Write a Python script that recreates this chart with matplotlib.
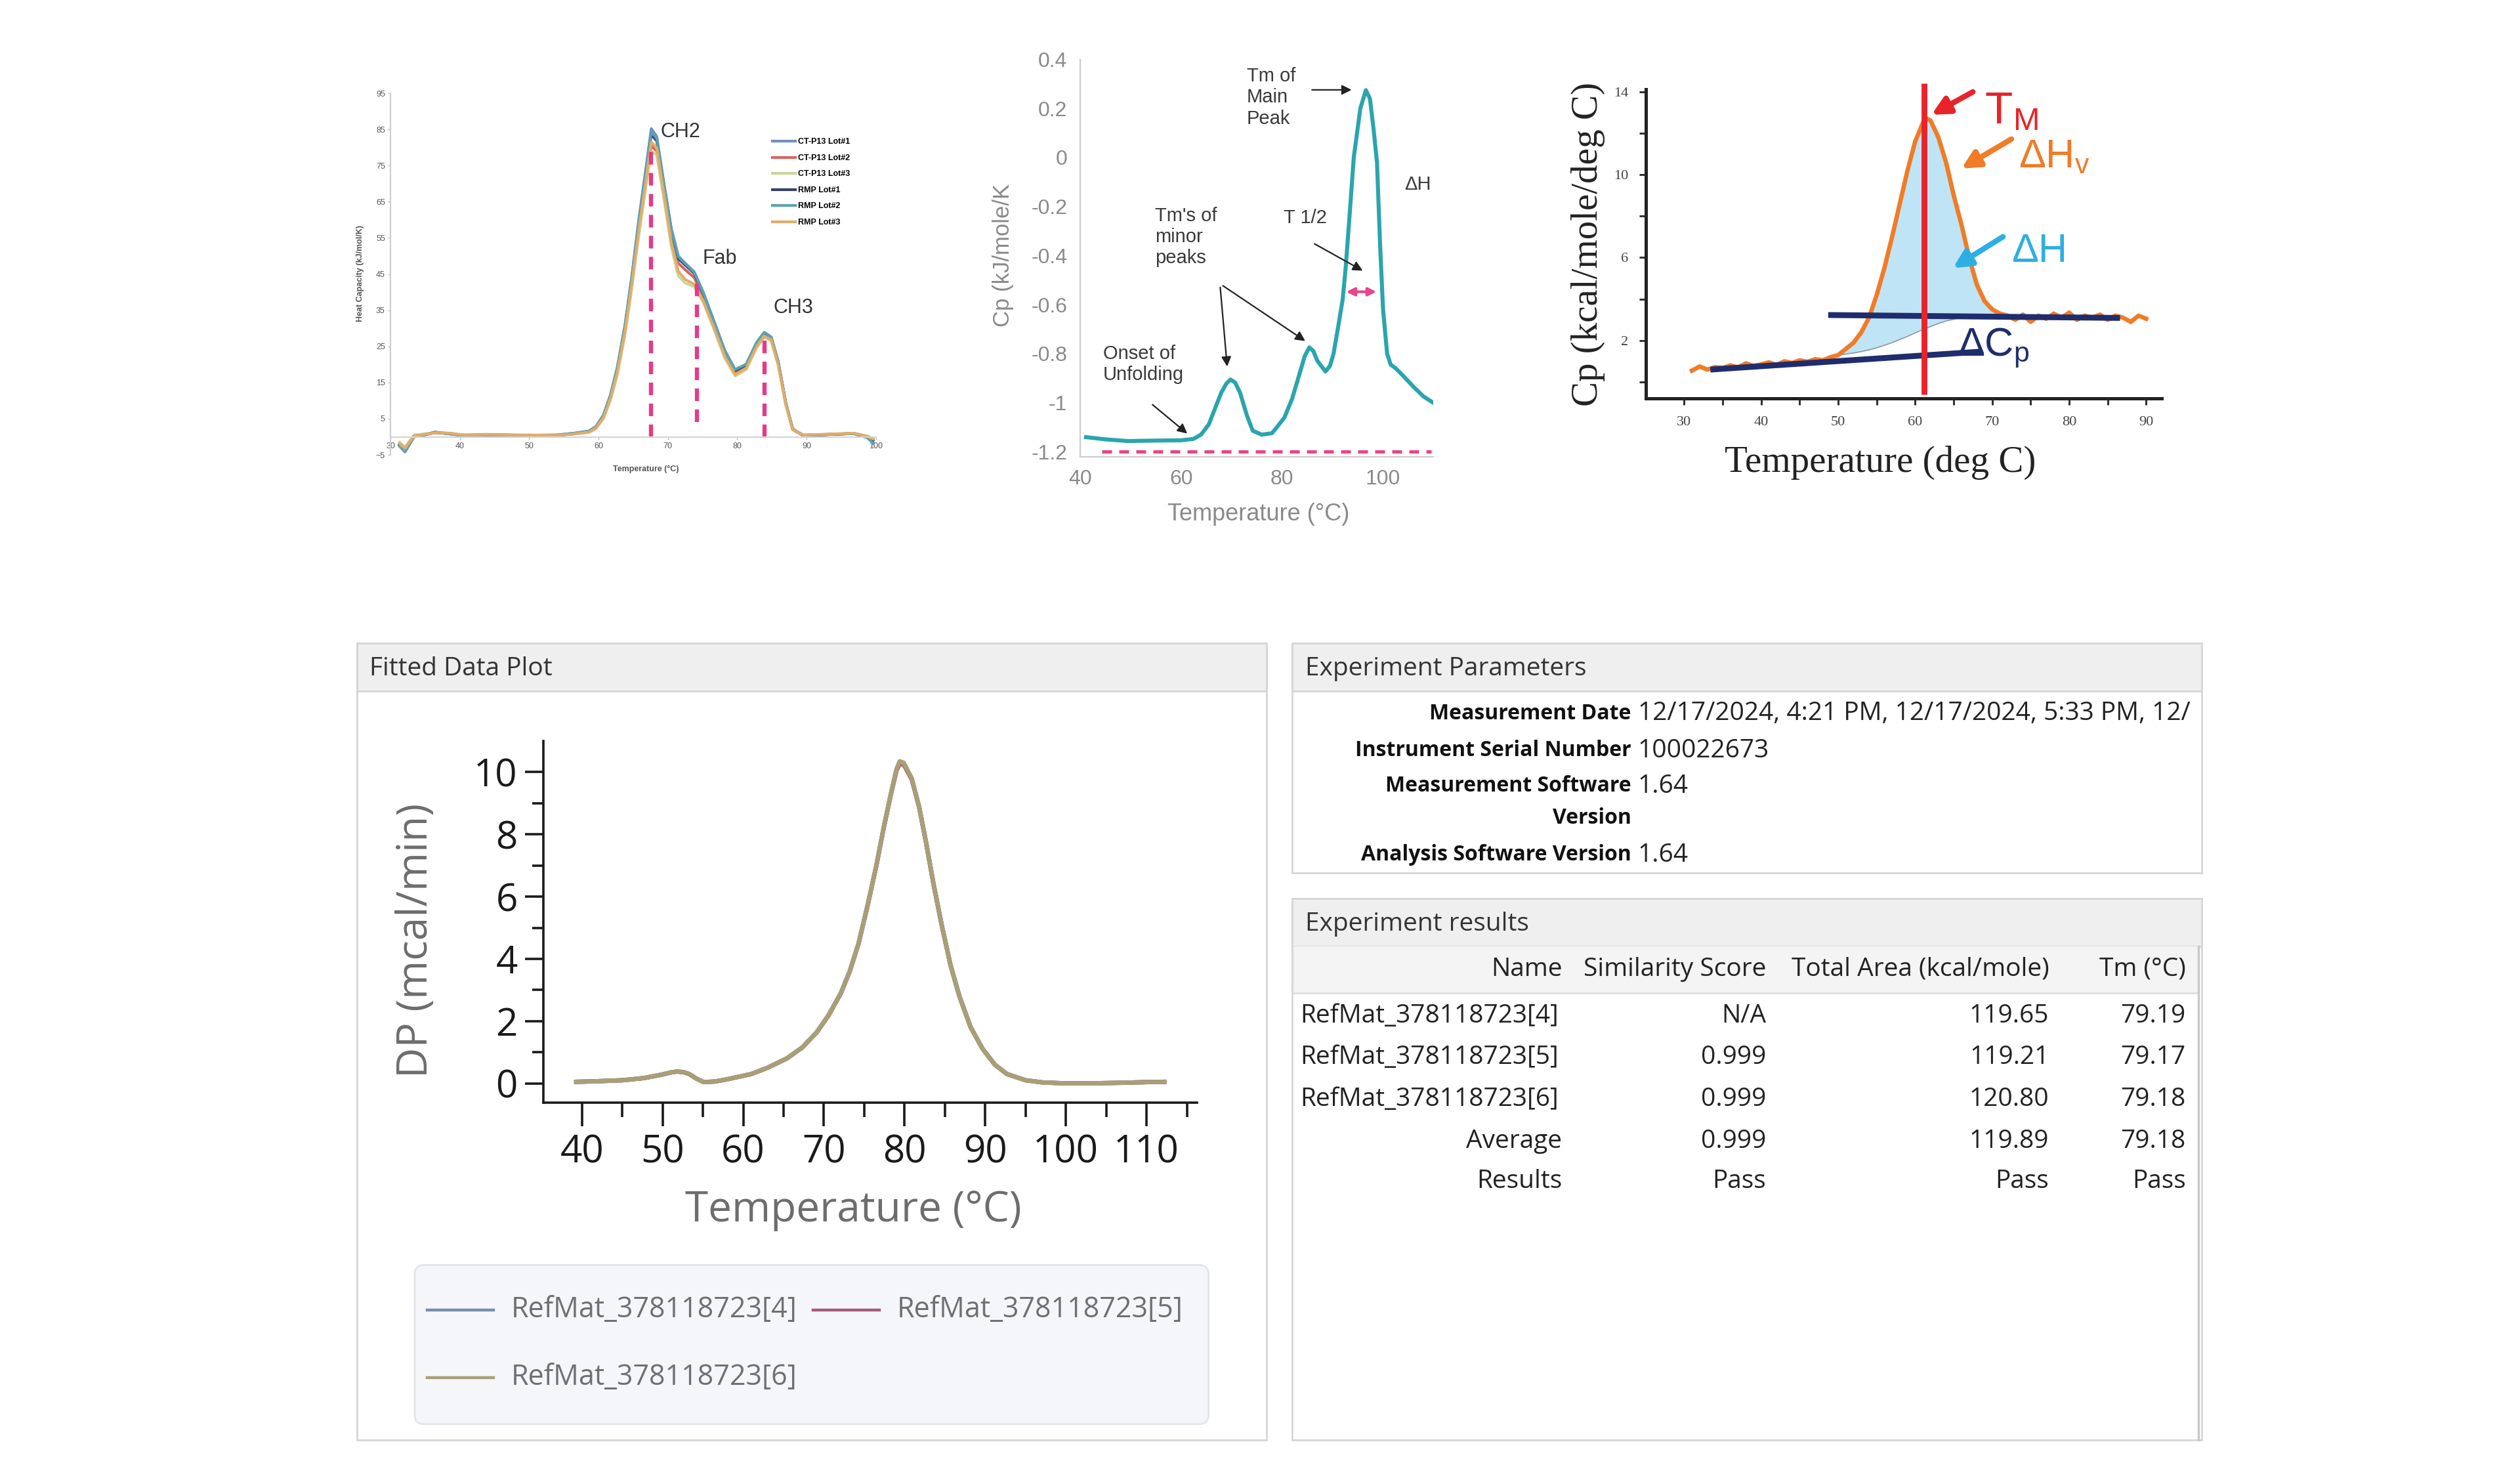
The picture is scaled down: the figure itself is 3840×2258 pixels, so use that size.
import numpy as np
import matplotlib.pyplot as plt
from matplotlib.patches import Rectangle, FancyBboxPatch
from matplotlib.transforms import Bbox, TransformedBbox

plt.rcParams['font.family'] = ['Liberation Sans', 'DejaVu Sans']
plt.rcParams['mathtext.fontset'] = 'custom'
plt.rcParams['mathtext.rm'] = 'Liberation Sans'
plt.rcParams['mathtext.it'] = 'Liberation Sans:italic'

# ---------------- data: panel 1 (six lots, Fc/Fab/CH3 transitions) ----------------
t1 = [31.3, 32.1, 33.4, 34.9, 36.4, 38.5, 40.6, 43.7, 48.8, 54.0, 56.5, 58.6, 59.6, 60.7, 61.7,
      62.7, 63.8, 64.8, 65.8, 66.9, 67.6, 68.4, 69.4, 70.5, 71.5, 72.5, 73.8, 75.1, 76.6, 78.2,
      79.7, 81.3, 82.8, 83.9, 84.9, 85.9, 87.0, 88.0, 89.5, 92.6, 96.8, 98.8, 99.6]
ct_lot1 = [-2.4, -3.9, 0.1, 0.5, 1.3, 0.8, 0.4, 0.6, 0.4, 0.5, 1.0, 1.6, 2.8, 6.0, 11.5,
           19.2, 30.8, 44.5, 60.0, 75.2, 85.2, 83.0, 70.5, 57.5, 50.0, 48.0, 45.6, 40.0, 32.2, 23.8,
           18.4, 20.0, 26.0, 28.8, 27.5, 20.8, 9.4, 2.0, 0.4, 0.6, 0.9, -0.2, -1.6]
ct_lot2 = [-1.8, -3.0, 0.4, 0.7, 1.1, 0.9, 0.5, 0.5, 0.4, 0.4, 0.8, 1.3, 2.3, 5.2, 10.3,
           17.6, 28.7, 41.8, 56.5, 71.0, 80.5, 79.0, 67.8, 55.4, 48.0, 46.2, 44.0, 38.8, 31.3, 23.2,
           17.9, 19.4, 25.3, 28.0, 26.9, 20.3, 9.1, 2.1, 0.5, 0.6, 1.0, 0.1, -0.7]
ct_lot3 = [-1.5, -2.8, 0.5, 0.8, 1.2, 1.0, 0.5, 0.7, 0.5, 0.4, 0.8, 1.2, 2.2, 5.0, 10.0,
           17.0, 28.0, 41.0, 55.5, 70.0, 79.0, 77.8, 66.0, 52.5, 44.5, 42.5, 41.5, 37.2, 30.0, 21.8,
           16.8, 18.6, 24.6, 27.6, 26.5, 19.8, 8.8, 2.0, 0.4, 0.7, 0.9, 0.2, -0.5]
rmp_lot1 = [-2.2, -3.6, 0.2, 0.6, 1.2, 0.9, 0.4, 0.6, 0.4, 0.4, 0.9, 1.5, 2.6, 5.7, 11.0,
            18.6, 29.9, 43.4, 58.6, 73.6, 83.6, 81.8, 69.7, 56.9, 49.3, 47.5, 45.2, 39.6, 32.0, 23.7,
            18.3, 19.9, 25.9, 28.6, 27.4, 20.7, 9.3, 2.1, 0.4, 0.6, 0.9, 0.0, -1.0]
rmp_lot2 = [-2.6, -4.2, 0.0, 0.5, 1.3, 0.8, 0.3, 0.6, 0.4, 0.5, 1.0, 1.5, 2.7, 5.9, 11.3,
            19.0, 30.4, 44.0, 59.2, 74.4, 84.4, 82.5, 70.2, 57.4, 49.8, 47.9, 45.5, 39.8, 32.1, 23.9,
            18.6, 20.1, 26.1, 28.9, 27.6, 20.9, 9.5, 2.2, 0.4, 0.6, 0.9, -0.3, -1.8]
rmp_lot3 = [-1.9, -3.2, 0.3, 0.7, 1.1, 1.0, 0.5, 0.6, 0.5, 0.4, 0.8, 1.3, 2.4, 5.3, 10.5,
            17.8, 29.0, 42.3, 57.0, 71.8, 81.5, 79.8, 67.5, 53.8, 45.8, 43.5, 42.2, 37.6, 30.4, 22.3,
            17.2, 19.0, 25.0, 27.9, 26.8, 20.1, 9.0, 2.0, 0.5, 0.7, 1.0, 0.1, -0.6]
lot_labels = ['CT-P13 Lot#1', 'CT-P13 Lot#2', 'CT-P13 Lot#3', 'RMP Lot#1', 'RMP Lot#2', 'RMP Lot#3']
peak_names = ['CH2', 'Fab', 'CH3']
peak_t = [67.6, 74.2, 83.9]
peak_bottom = [0, 4, 0]
peak_top = [79, 43, 27.5]

# ---------------- data: panel 2 (annotated thermogram) ----------------
p2_temp = [41.2, 45.0, 49.5, 55.0, 60.0, 62.5, 64.0, 65.5, 67.0, 68.0,
           69.0, 69.8, 70.7, 71.7, 73.0, 74.2, 76.0, 78.0, 79.0, 80.5,
           82.0, 83.5, 84.5, 85.4, 86.2, 87.0, 88.6, 89.5, 90.2, 91.2,
           92.0, 92.6, 93.5, 94.2, 95.5, 96.6, 97.4, 98.1, 98.8, 99.4,
           100.0, 100.8, 101.5, 102.5, 103.7, 106.0, 108.0, 109.9]
p2_cp = [-1.141, -1.150, -1.157, -1.155, -1.154, -1.148, -1.130, -1.089, -1.010, -0.958,
         -0.922, -0.906, -0.918, -0.960, -1.050, -1.115, -1.131, -1.125, -1.100, -1.060,
         -0.984, -0.880, -0.810, -0.775, -0.790, -0.830, -0.873, -0.850, -0.800, -0.680,
         -0.580, -0.450, -0.200, 0.000, 0.200, 0.275, 0.240, 0.120, -0.020, -0.350,
         -0.620, -0.800, -0.845, -0.860, -0.885, -0.935, -0.975, -1.000]
p2_xticks = [40, 60, 80, 100]
p2_yticks = [-1.2, -1.0, -0.8, -0.6, -0.4, -0.2, 0.0, 0.2, 0.4]
p2_yticklabels = ['-1.2', '-1', '-0.8', '-0.6', '-0.4', '-0.2', '0', '0.2', '0.4']
p2_baseline = -1.2
p2_t_half = [92.0, 99.4]

# ---------------- data: panel 3 (Cp with baselines) ----------------
p3_temp = [31, 32, 33, 34, 35, 36, 37, 38, 39, 40,
           41, 42, 43, 44, 45, 46, 47, 48, 49, 50,
           51, 52, 53, 54, 55, 56, 57, 58, 59, 60,
           61, 61.5, 62, 63, 64, 65, 66, 67, 68, 69,
           70, 71, 72, 73, 74, 75, 76, 77, 78, 79,
           80, 81, 82, 83, 84, 85, 86, 87, 88, 89, 90]
p3_cp = [0.55, 0.75, 0.6, 0.72, 0.68, 0.8, 0.7, 0.9, 0.78, 0.85,
         0.95, 0.82, 1.0, 0.92, 1.05, 0.98, 1.1, 1.05, 1.2, 1.3,
         1.6, 1.9, 2.4, 3.1, 4.2, 5.5, 7.0, 8.6, 10.2, 11.6,
         12.5, 12.7, 12.6, 11.8, 10.6, 9.0, 7.6, 6.0, 4.7, 3.9,
         3.5, 3.3, 3.2, 3.0, 3.25, 2.9, 3.2, 3.05, 3.3, 3.1,
         3.35, 3.0, 3.2, 3.1, 3.25, 3.0, 3.2, 3.1, 2.9, 3.2, 3.05]
# progress baseline under the peak (for temperatures 50 .. 72 of p3_temp)
p3_base = [1.3, 1.35, 1.4, 1.47, 1.55, 1.65, 1.77, 1.9, 2.05, 2.2, 2.37, 2.53,
           2.6, 2.68, 2.82, 2.94, 3.03, 3.1, 3.15, 3.18, 3.2, 3.2, 3.2, 3.2]
p3_post_t = [48.7, 86.6]
p3_post_cp = [3.23, 3.09]
p3_pre_t = [33.4, 68.7]
p3_pre_cp = [0.6, 1.47]
p3_tm = 61.2

# ---------------- data: panel 4 (fitted data plot) ----------------
p4_temp = [39.3, 42, 45, 47.7, 49.9, 51.0, 51.8, 52.6, 53.3, 54.2,
           55.1, 56.5, 58, 61, 63, 65.4, 67.3, 69.1, 70.6, 72.1,
           73.2, 74.3, 75.4, 76.5, 77.4, 78.3, 79.0, 79.4, 79.9, 80.9,
           81.8, 82.7, 83.6, 84.6, 85.7, 86.8, 88.2, 89.7, 91.2, 92.7,
           95, 97.1, 100, 103, 107, 110, 112.2]
dp_4 = [0.05, 0.07, 0.1, 0.17, 0.28, 0.35, 0.38, 0.36, 0.3, 0.15,
        0.04, 0.06, 0.13, 0.3, 0.5, 0.8, 1.15, 1.64, 2.2, 2.9,
        3.6, 4.5, 5.7, 7.0, 8.2, 9.3, 10.08, 10.3, 10.27, 9.78,
        8.9, 7.7, 6.4, 5.1, 3.8, 2.8, 1.8, 1.1, 0.6, 0.3,
        0.1, 0.03, 0.0, 0.0, 0.02, 0.04, 0.05]
dp_5 = [0.05, 0.07, 0.1, 0.17, 0.28, 0.35, 0.38, 0.36, 0.3, 0.15,
        0.04, 0.06, 0.13, 0.3, 0.5, 0.8, 1.15, 1.63, 2.19, 2.89,
        3.59, 4.49, 5.69, 6.98, 8.18, 9.27, 10.05, 10.27, 10.24, 9.76,
        8.88, 7.69, 6.39, 5.09, 3.8, 2.8, 1.8, 1.1, 0.6, 0.3,
        0.1, 0.03, 0.0, 0.0, 0.02, 0.04, 0.05]
dp_6 = [0.05, 0.07, 0.1, 0.17, 0.28, 0.35, 0.38, 0.36, 0.3, 0.15,
        0.04, 0.06, 0.13, 0.3, 0.5, 0.8, 1.15, 1.64, 2.2, 2.9,
        3.6, 4.5, 5.7, 7.0, 8.2, 9.3, 10.1, 10.35, 10.3, 9.8,
        8.9, 7.7, 6.4, 5.1, 3.8, 2.8, 1.8, 1.1, 0.6, 0.3,
        0.1, 0.03, 0.0, 0.0, 0.02, 0.04, 0.05]
run_names = ['RefMat_378118723[4]', 'RefMat_378118723[5]', 'RefMat_378118723[6]']

# ---------------- data: tables ----------------
param_labels = ['Measurement Date', 'Instrument Serial Number', 'Measurement Software', 'Version',
                'Analysis Software Version']
param_values = ['12/17/2024, 4:21 PM, 12/17/2024, 5:33 PM, 12/', '100022673', '1.64', '', '1.64']
result_cols = ['Name', 'Similarity Score', 'Total Area (kcal/mole)', 'Tm (°C)']
result_names = run_names + ['Average', 'Results']
similarity = ['N/A', '0.999', '0.999', '0.999', 'Pass']
total_area = ['119.65', '119.21', '120.80', '119.89', 'Pass']
tm_vals = ['79.19', '79.17', '79.18', '79.18', 'Pass']

# ---------------- layout helpers (grid = 1568 x 922 preview pixels) ----------------
W, H = 1568, 922


def box(x0, y0, x1, y1):
    return [x0 / W, 1 - y1 / H, (x1 - x0) / W, (y1 - y0) / H]


def frac(b, x, y):
    x0, y0, x1, y1 = b
    return (x - x0) / (x1 - x0), (y1 - y) / (y1 - y0)


fig = plt.figure(figsize=(19.2, 11.29), dpi=200)
bg = fig.add_axes([0, 0, 1, 1])
bg.set_xlim(0, W)
bg.set_ylim(H, 0)
bg.axis('off')

# ================= panel 1 =================
b1 = (243, 58, 545, 283)
ax1 = fig.add_axes(box(*b1))
ax1.set_facecolor('none')
lot_colors = ['#6f8fc4', '#d9655b', '#cdd49a', '#34406e', '#5aa2b3', '#e0ad6b']
for ys, c, lab in zip([ct_lot1, ct_lot2, ct_lot3, rmp_lot1, rmp_lot2, rmp_lot3], lot_colors, lot_labels):
    ax1.plot(t1, ys, color=c, lw=1.5, label=lab)
ax1.vlines(peak_t, peak_bottom, peak_top, colors='#e23c8a', linestyles=(0, (3, 2)), lw=2.3)
for name, t, top in zip(peak_names, peak_t, [84.3, 49.2, 35.6]):
    ax1.text(t + 1.3 if name != 'Fab' else t + 0.8, top, name, fontsize=11, va='center', color='#333333')
ax1.set_xlim(30, 100)
ax1.set_ylim(-5, 95)
ax1.set_xticks(range(30, 101, 10))
ax1.set_yticks(range(-5, 96, 10))
for s in ['top', 'right']:
    ax1.spines[s].set_visible(False)
ax1.spines['left'].set_color('#cfcfcf')
ax1.spines['left'].set_linewidth(0.8)
ax1.spines['bottom'].set_position(('data', 0))
ax1.spines['bottom'].set_color('#d5d5d5')
ax1.spines['bottom'].set_linewidth(0.8)
ax1.tick_params(length=1.5, width=0.5, colors='#c0c0c0', labelsize=4.5, labelcolor='#555555', pad=1.5)
ax1.legend(loc='upper left', bbox_to_anchor=(0.78, 0.885), frameon=False,
           prop={'size': 4.5, 'weight': 'bold'}, handlelength=2.8, labelspacing=1.0,
           handletextpad=0.3, borderaxespad=0)
ax1.set_xlabel('Temperature (°C)', fontsize=4.5, weight='bold', color='#555555', va='center')
ax1.xaxis.set_label_coords(*frac(b1, 402, 292))
ax1.set_ylabel('Heat Capacity (kJ/mol/K)', fontsize=4.5, weight='bold', color='#555555', va='center')
ax1.yaxis.set_label_coords(*frac(b1, 224, 170))

# ================= panel 2 =================
b2 = (672, 37, 892, 284)
ax2 = fig.add_axes(box(*b2))
ax2.set_facecolor('none')
ax2.plot(p2_temp, p2_cp, color='#2aa5ad', lw=2.2)
ax2.hlines(p2_baseline, 44.3, 109.5, colors='#e8458b', linestyles=(0, (3, 2.2)), lw=1.8)
ax2.set_xlim(40, 110)
ax2.set_ylim(-1.22, 0.4)
ax2.set_xticks(p2_xticks)
ax2.set_yticks(p2_yticks, p2_yticklabels)
for s in ['top', 'right']:
    ax2.spines[s].set_visible(False)
for s in ['left', 'bottom']:
    ax2.spines[s].set_color('#cccccc')
ax2.tick_params(length=0, labelsize=11.5, labelcolor='#8a8a8a', pad=7)
ax2.set_xlabel('Temperature (°C)', fontsize=13, color='#8a8a8a', va='center')
ax2.xaxis.set_label_coords(*frac(b2, 783, 320))
ax2.set_ylabel('Cp (kJ/mole/K', fontsize=12.5, color='#8a8a8a', va='center')
ax2.yaxis.set_label_coords(*frac(b2, 624, 159))
arrow_k = dict(arrowstyle='-|>', color='#222222', lw=0.8, mutation_scale=11)
note_kw = dict(fontsize=10.5, color='#3a3a3a', linespacing=1.2)
ax2.text(73.0, 0.37, 'Tm of\nMain\nPeak', va='top', **note_kw)
ax2.annotate('', xy=(94.5, 0.276), xytext=(85.2, 0.276), arrowprops=arrow_k)
ax2.text(104.3, -0.11, 'ΔH', va='center', **note_kw)
ax2.text(80.3, -0.247, 'T 1/2', va='center', **note_kw)
ax2.annotate('', xy=(96.6, -0.469), xytext=(85.8, -0.345), arrowprops=arrow_k)
ax2.annotate('', xy=(p2_t_half[1], -0.548), xytext=(p2_t_half[0], -0.548),
             arrowprops=dict(arrowstyle='<|-|>', color='#e8458b', lw=1.5, mutation_scale=9))
ax2.text(54.8, -0.2, "Tm's of\nminor\npeaks", va='top', **note_kw)
ax2.annotate('', xy=(69.2, -0.868), xytext=(67.7, -0.515), arrowprops=arrow_k)
ax2.annotate('', xy=(85.2, -0.757), xytext=(67.7, -0.515), arrowprops=arrow_k)
ax2.text(44.6, -0.763, 'Onset of\nUnfolding', va='top', **note_kw)
ax2.annotate('', xy=(61.8, -1.136), xytext=(53.8, -0.999), arrowprops=arrow_k)

# ================= panel 3 =================
b3 = (1024, 55.7, 1345, 248)
ax3 = fig.add_axes(box(*b3))
ax3.set_facecolor('none')
fill_t = p3_temp[19:43]
fill_cp = p3_cp[19:43]
ax3.fill_between(fill_t, p3_base, fill_cp, color='#bfe4f5', lw=0)
ax3.plot(fill_t, p3_base, color='#8a9aa8', lw=0.6)
ax3.plot(p3_temp, p3_cp, color='#f07c28', lw=2.4)
ax3.plot(p3_post_t, p3_post_cp, color='#1f2d6e', lw=3.2, solid_capstyle='butt')
ax3.plot(p3_pre_t, p3_pre_cp, color='#1f2d6e', lw=3.2, solid_capstyle='butt')
ax3.vlines(p3_tm, -0.6, 14.4, colors='#e8232a', lw=3.2, clip_on=False)
ax3.set_xlim(25, 92)
ax3.set_ylim(-0.8, 14.1)
ax3.set_xticks(range(30, 91, 10))
ax3.set_xticks(range(35, 90, 10), minor=True)
ax3.set_yticks([2, 6, 10, 14])
ax3.set_yticks([0, 4, 8, 12], minor=True)
for s in ['top', 'right']:
    ax3.spines[s].set_visible(False)
for s in ['left', 'bottom']:
    ax3.spines[s].set_color('#222222')
    ax3.spines[s].set_linewidth(1.8)
ax3.tick_params(which='both', direction='out', length=3.5, width=1.1, colors='#333333',
                labelsize=8, labelcolor='#444444', labelfontfamily='Liberation Serif', pad=6)
ax3.set_xlabel('Temperature (deg C)', fontsize=20.5, family='Liberation Serif', color='#222222', va='center')
ax3.xaxis.set_label_coords(*frac(b3, 1170, 288))
ax3.set_ylabel('Cp (kcal/mole/deg C)', fontsize=20.5, family='Liberation Serif', color='#222222', va='center')
ax3.yaxis.set_label_coords(*frac(b3, 988, 152))
ax3.annotate('', xy=(61.7, 12.8), xytext=(67.9, 14.07), annotation_clip=False,
             arrowprops=dict(arrowstyle='-|>', color='#e8232a', lw=3, mutation_scale=20))
ax3.text(69.0, 12.45, r'T$_{\mathrm{M}}$', fontsize=25, color='#e8232a', va='baseline')
ax3.annotate('', xy=(65.6, 10.2), xytext=(72.9, 11.8),
             arrowprops=dict(arrowstyle='-|>', color='#f07c28', lw=3, mutation_scale=20))
ax3.text(73.4, 10.35, r'ΔH$_{\mathrm{v}}$', fontsize=22, color='#f07c28', va='baseline')
ax3.annotate('', xy=(64.5, 5.4), xytext=(71.8, 7.1),
             arrowprops=dict(arrowstyle='-|>', color='#2eaee3', lw=3, mutation_scale=20))
ax3.text(72.5, 5.8, 'ΔH', fontsize=22, color='#2eaee3', va='baseline')
ax3.text(65.5, 1.25, r'ΔC$_{\mathrm{p}}$', fontsize=22, color='#1f2d6e', va='baseline')

# ================= bottom panels (frames + headers) =================
ui = ['Open Sans', 'DejaVu Sans']
edge = '#d6d6d6'
for (x0, y0, x1, y1, title) in [(222, 400, 788, 896, 'Fitted Data Plot'),
                                (804, 400, 1370, 543, 'Experiment Parameters'),
                                (804, 559, 1370, 896, 'Experiment results')]:
    bg.add_patch(Rectangle((x0, y0), x1 - x0, y1 - y0, facecolor='white', edgecolor=edge, lw=1.0))
    bg.add_patch(Rectangle((x0, y0), x1 - x0, 30, facecolor='#efefef', edgecolor=edge, lw=1.0))
    bg.text(x0 + 8, y0 + 16, title, va='center', ha='left', fontsize=14, family=ui, color='#333333')

# ================= panel 4 =================
b4 = (338, 461, 745, 686)
ax4 = fig.add_axes(box(*b4))
ax4.set_facecolor('none')
run_colors = ['#7c8bb0', '#a85a78', '#a89f78']
for ys, c in zip([dp_4, dp_5, dp_6], run_colors):
    ax4.plot(p4_temp, ys, color=c, lw=2.4)
ax4.set_xlim(35.2, 116.3)
ax4.set_ylim(-0.62, 11.0)
ax4.set_xticks(range(40, 111, 10))
ax4.set_xticks(range(45, 116, 10), minor=True)
ax4.set_yticks(range(0, 11, 2))
ax4.set_yticks(range(1, 10, 2), minor=True)
for s in ['top', 'right']:
    ax4.spines[s].set_visible(False)
for s in ['left', 'bottom']:
    ax4.spines[s].set_color('#1a1a1a')
    ax4.spines[s].set_linewidth(1.3)
ax4.tick_params(which='both', direction='out', width=1.3, colors='#1a1a1a',
                labelsize=21, labelfontfamily='Open Sans')
ax4.tick_params(axis='x', which='major', length=13, pad=4)
ax4.tick_params(axis='x', which='minor', length=8)
ax4.tick_params(axis='y', which='major', length=10, pad=4)
ax4.tick_params(axis='y', which='minor', length=6)
ax4.set_xlabel('Temperature (°C)', fontsize=23, family=ui, color='#6d6d6d', va='center')
ax4.xaxis.set_label_coords(*frac(b4, 531, 753))
ax4.set_ylabel('DP (mcal/min)', fontsize=23, family=ui, color='#6d6d6d', va='center')
ax4.yaxis.set_label_coords(*frac(b4, 259, 585))

bg.add_patch(FancyBboxPatch((258, 787), 494, 99, boxstyle='round,pad=0,rounding_size=6',
                            facecolor='#f4f6f9', edgecolor='#e2e5ea', lw=1.0))
for (lx, ly), name, c in zip([(266, 815), (506, 815), (266, 857)], run_names, run_colors):
    bg.plot([lx, lx + 41], [ly, ly], color=c, lw=1.6)
    bg.text(lx + 52, ly, name, va='center', ha='left', fontsize=15.5, family=ui, color='#707070')

# ================= experiment parameters =================
clip = TransformedBbox(Bbox([[804, 400], [1369, 543]]), bg.transData)
for lab, val, y in zip(param_labels, param_values, [444, 467, 489, 509, 532]):
    bg.text(1015, y, lab, ha='right', va='center', fontsize=11.5, weight='bold', family=ui, color='#111111')
    t = bg.text(1019, y, val, ha='left', va='center', fontsize=14, family=ui, color='#222222')
    t.set_clip_box(clip)

# ================= experiment results =================
bg.add_patch(Rectangle((805, 589), 563, 29, facecolor='#f4f4f4', edgecolor='none'))
bg.plot([805, 1368], [618, 618], color='#dddddd', lw=1.0)
bg.plot([1368, 1368], [589, 896], color='#c8c8c8', lw=1.2)
for col, x in zip(result_cols, [972, 1099, 1275, 1360]):
    bg.text(x, 603, col, ha='right', va='center', fontsize=14, family=ui, color='#222222')
for i, y in enumerate([632, 658, 684, 710, 735]):
    if i < 3:
        bg.text(809, y, result_names[i], ha='left', va='center', fontsize=14, family=ui, color='#222222')
    else:
        bg.text(972, y, result_names[i], ha='right', va='center', fontsize=14, family=ui, color='#222222')
    bg.text(1099, y, similarity[i], ha='right', va='center', fontsize=14, family=ui, color='#222222')
    bg.text(1275, y, total_area[i], ha='right', va='center', fontsize=14, family=ui, color='#222222')
    bg.text(1360, y, tm_vals[i], ha='right', va='center', fontsize=14, family=ui, color='#222222')

fig.savefig('out.png', dpi=200, facecolor='white')
